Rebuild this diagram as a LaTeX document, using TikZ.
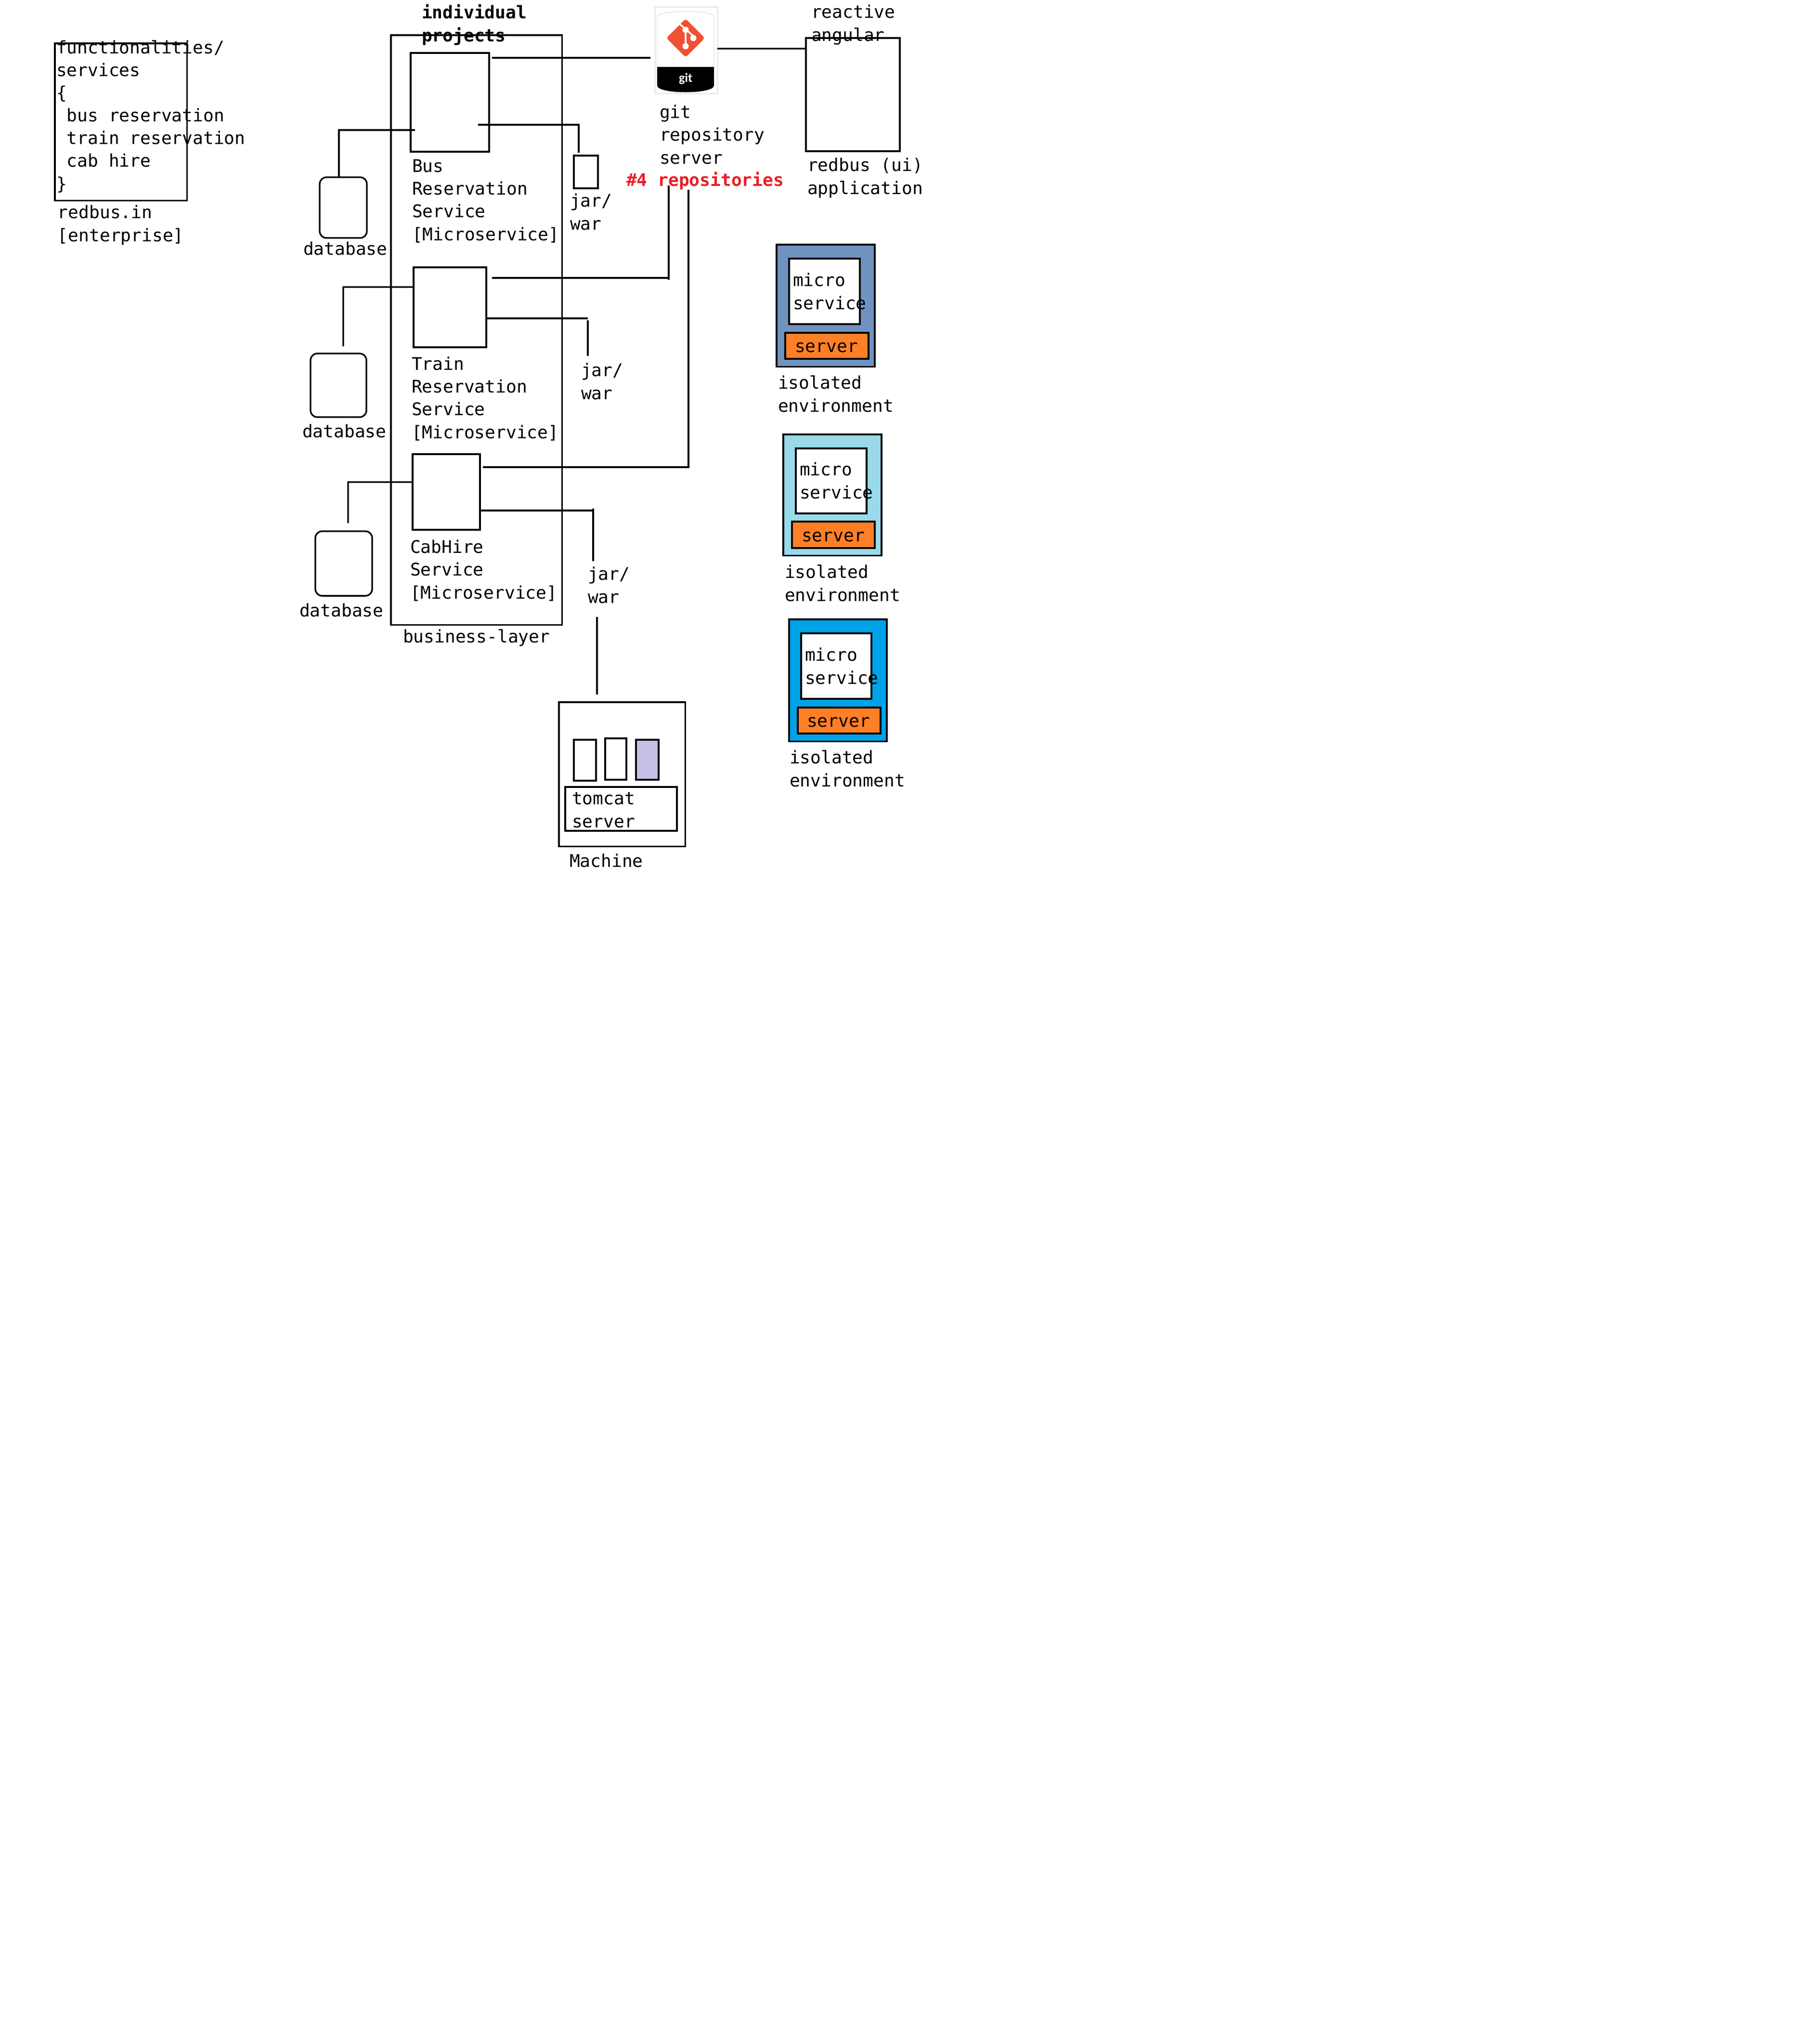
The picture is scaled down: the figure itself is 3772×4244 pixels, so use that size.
\documentclass[tikz,border=0pt]{standalone}
\usepackage{fontspec}
\setmainfont{DejaVu Sans Mono}
\newfontfamily\gitfont{Carlito}
\usetikzlibrary{arrows.meta, positioning, calc}
\definecolor{envblue}{HTML}{7092BE}
\definecolor{envcyan}{HTML}{99D9EA}
\definecolor{envsky}{HTML}{00A2E8}
\definecolor{srvorange}{HTML}{FF7F27}
\definecolor{warlilac}{HTML}{C8BFE7}
\definecolor{gitred}{HTML}{F05133}
\definecolor{reporeed}{HTML}{ED1C24}
\begin{document}
\begin{tikzpicture}[x=0.01cm, y=-0.01cm,
      box/.style={draw, line width=0.033cm, anchor=north west, inner sep=0pt, outer sep=0pt},
      dbbox/.style={box, rounded corners=0.14cm},
      srvbox/.style={box, fill=srvorange},
      lbl/.style={anchor=base west, inner sep=0pt, outer sep=0pt, align=left, font=\fontsize{10.3}{13.38}\selectfont},
      conn/.style={line width=0.033cm}
    ]
      \useasboundingbox (0,0) rectangle (3772,4244);

      % Enterprise box
      \node[box, minimum width=2.74cm, minimum height=3.26cm] (enterprise) at (114,90) {};
      \node[lbl] (enterprisetxt) at (117,394) {functionalities/\\services\\\{\\\ bus reservation\\\ train reservation\\\ cab hire\\\}};
      \node[lbl] (enterprisename) at (120,501) {redbus.in\\{[}enterprise]};

      % Business layer and its services
      \node[box, minimum width=3.55cm, minimum height=12.24cm] (layer) at (812,73) {};
      \node[lbl, font=\fontsize{10.3}{13.38}\selectfont\bfseries] (layertitle) at (876,86) {individual\\projects};
      \node[lbl] (layername) at (837,1334) {business-layer};
      \node[box, minimum width=1.63cm, minimum height=2.05cm] (bus) at (853,110) {};
      \node[box, minimum width=1.51cm, minimum height=1.66cm] (train) at (859,555) {};
      \node[box, minimum width=1.40cm, minimum height=1.57cm] (cab) at (857,943) {};
      \node[lbl] (bustxt) at (856,499) {Bus\\Reservation\\Service\\{[}Microservice]};
      \node[lbl] (traintxt) at (855,910) {Train\\Reservation\\Service\\{[}Microservice]};
      \node[lbl] (cabtxt) at (852,1243) {CabHire\\Service\\{[}Microservice]};

      % Databases
      \node[dbbox, minimum width=0.98cm, minimum height=1.26cm] (busdb) at (664,368) {};
      \node[dbbox, minimum width=1.16cm, minimum height=1.32cm] (traindb) at (645,734) {};
      \node[dbbox, minimum width=1.18cm, minimum height=1.34cm] (cabdb) at (655,1103) {};
      \node[lbl] (busdbtxt) at (630,529) {database};
      \node[lbl] (traindbtxt) at (628,908) {database};
      \node[lbl] (cabdbtxt) at (622,1280) {database};

      % Jar and war files
      \node[box, minimum width=0.50cm, minimum height=0.68cm] (busjar) at (1192,323) {};
      \node[lbl] (busjartxt) at (1184,477) {jar/\\war};
      \node[lbl] (trainjartxt) at (1207,829) {jar/\\war};
      \node[lbl] (cabjartxt) at (1221,1252) {jar/\\war};

      % Git server
      \fill[black!8] (1359,13) rectangle (1492,196);
      \fill[white] (1362,16) rectangle (1489,193);
      \draw[black!15, fill=white, line width=0.01cm] (1365,139) -- (1365,35) .. controls (1367,20) and (1481,20) .. (1483,35) -- (1483,139);
      \fill[black] (1365,139) -- (1365,178) .. controls (1367,196) and (1481,196) .. (1483,178) -- (1483,139) -- cycle;
      \fill[gitred, rounded corners=0.05cm] (1424,39) -- (1464,79) -- (1424,119) -- (1384,79) -- cycle;
      \draw[white, line width=0.035cm] (1412,50) -- (1445,79) (1424,62) -- (1424,96);
      \fill[white] (1424,62) circle (6.5) (1440,79) circle (6.5) (1424,96) circle (6.5);
      \node[lbl, text=white, font=\gitfont\fontsize{7.5}{9}\selectfont\bfseries] (gitlogo) at (1410,170) {git};
      \node[lbl] (gittxt) at (1370,340) {git\\repository\\server};
      \node[lbl, text=reporeed, font=\fontsize{10.3}{13.38}\selectfont\bfseries] (repotxt) at (1301,386) {\#4 repositories};

      % UI application
      \node[box, minimum width=1.95cm, minimum height=2.35cm] (ui) at (1674,79) {};
      \node[lbl] (uititle) at (1685,85) {reactive\\angular};
      \node[lbl] (uitxt) at (1677,403) {redbus (ui)\\application};

      % Connectors
      \coordinate (gitwest) at (1351,120);
      \coordinate (giteast) at (1490,101);
      \coordinate (traingit) at (1389,577);
      \coordinate (cabgit) at (1430,970);
      \coordinate (busdbbend) at (704,270);
      \coordinate (traindbbend) at (713,596);
      \coordinate (cabdbbend) at (723,1001);
      \coordinate (busjarbend) at (1202,259);
      \coordinate (trainjarbend) at (1221,661);
      \draw[conn] ([shift={(6,10)}]bus.north east) -- (gitwest);
      \draw[conn] (giteast) -- ([yshift=0.955cm]ui.west);
      \draw[conn] ([shift={(12,22)}]train.north east) -- (traingit);
      \draw[conn] (1389,385) -- (1389,581);
      \draw[conn] ([shift={(6,27)}]cab.north east) -- (cabgit) -- (1430,394);
      \draw[conn] ([shift={(9,160)}]bus.north west) -- (busdbbend) -- (704,368);
      \draw[conn] ([yshift=0.42cm]train.west) -- (traindbbend) -- (713,719);
      \draw[conn] ([yshift=0.205cm]cab.west) -- (cabdbbend) -- (723,1086);
      \draw[conn] ([shift={(-23,149)}]bus.north east) -- (busjarbend) -- (1202,317);
      \draw[conn] ([shift={(-2,106)}]train.north east) -- (trainjarbend) (1221,665) -- (1221,739);
      \draw[conn] ([shift={(-2,117)}]cab.north east) -- (1232,1060) (1232,1056) -- (1232,1165);
      \draw[conn] (1240,1281) -- (1240,1442);

      % Machine
      \node[box, minimum width=2.62cm, minimum height=2.99cm] (machine) at (1161,1458) {};
      \node[box, minimum width=0.46cm, minimum height=0.85cm] (wara) at (1192,1536) {};
      \node[box, minimum width=0.44cm, minimum height=0.86cm] (warb) at (1257,1533) {};
      \node[box, fill=warlilac, minimum width=0.47cm, minimum height=0.83cm] (warc) at (1321,1536) {};
      \node[box, minimum width=2.32cm, minimum height=0.91cm] (tomcat) at (1174,1634) {};
      \node[lbl] (tomcattxt) at (1188,1718) {tomcat\\server};
      \node[lbl] (machinetxt) at (1183,1800) {Machine};

      % Isolated environments
      \node[box, fill=envblue, minimum width=2.04cm, minimum height=2.53cm] (enva) at (1613,508) {};
      \node[box, fill=white, minimum width=1.47cm, minimum height=1.36cm] (microa) at (1639,537) {};
      \node[srvbox, minimum width=1.73cm, minimum height=0.54cm] (srva) at (1631,691) {};
      \node[lbl] (microatxt) at (1647,642) {micro\\service};
      \node[lbl] (srvatxt) at (1651,731) {server};
      \node[lbl] (envatxt) at (1616,855) {isolated\\environment};

      \node[box, fill=envcyan, minimum width=2.04cm, minimum height=2.51cm] (envb) at (1627,902) {};
      \node[box, fill=white, minimum width=1.47cm, minimum height=1.35cm] (microb) at (1653,931) {};
      \node[srvbox, minimum width=1.72cm, minimum height=0.55cm] (srvb) at (1645,1083) {};
      \node[lbl] (microbtxt) at (1661,1035) {micro\\service};
      \node[lbl] (srvbtxt) at (1665,1124) {server};
      \node[lbl] (envbtxt) at (1630,1248) {isolated\\environment};

      \node[box, fill=envsky, minimum width=2.03cm, minimum height=2.53cm] (envc) at (1639,1286) {};
      \node[box, fill=white, minimum width=1.46cm, minimum height=1.36cm] (microc) at (1664,1315) {};
      \node[srvbox, minimum width=1.72cm, minimum height=0.54cm] (srvc) at (1657,1469) {};
      \node[lbl] (microctxt) at (1672,1420) {micro\\service};
      \node[lbl] (srvctxt) at (1676,1509) {server};
      \node[lbl] (envctxt) at (1640,1633) {isolated\\environment};
    \end{tikzpicture}
\end{document}
